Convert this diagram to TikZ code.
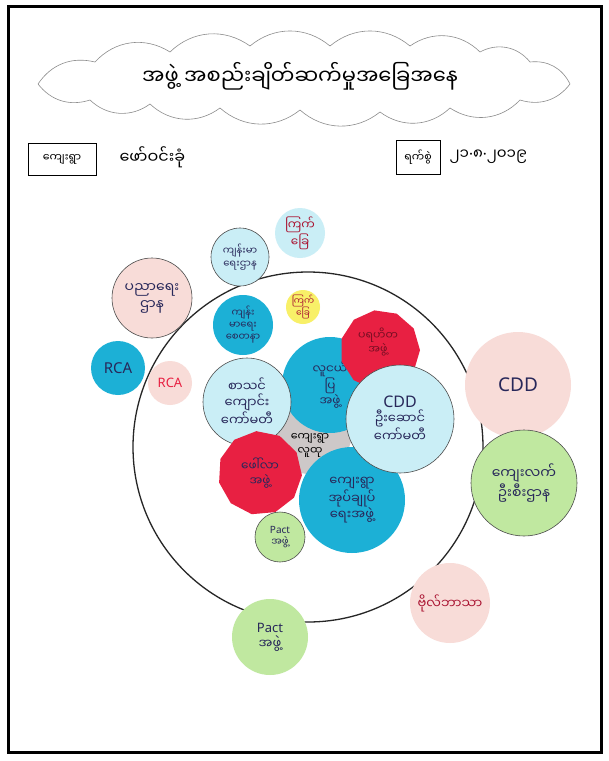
\documentclass[tikz,border=0pt]{standalone}
\usepackage{fontspec}
\setmainfont{Noto Sans}
\newfontfamily\my[Script=Myanmar]{Noto Sans Myanmar UI}
\newfontfamily\latf{Noto Sans}
\usetikzlibrary{shapes.geometric}
\definecolor{lblue}{RGB}{202,238,246}
\definecolor{cyanb}{RGB}{28,176,214}
\definecolor{pinkc}{RGB}{248,220,216}
\definecolor{redc}{RGB}{232,32,66}
\definecolor{yellowc}{RGB}{248,240,104}
\definecolor{greenc}{RGB}{192,232,160}
\definecolor{grayc}{RGB}{205,200,200}
\definecolor{ink}{RGB}{40,40,90}
\definecolor{redink}{RGB}{170,20,50}
\begin{document}
\begin{tikzpicture}[x=1pt,y=-1pt,
  org/.style={circle, inner sep=0pt, align=center, text=ink,
    font=\my\fontsize{12}{15}\selectfont},
  redpoly/.style={regular polygon, regular polygon sides=11, inner sep=0pt, align=center,
    fill=redc, text=ink, font=\my\fontsize{12}{15}\selectfont},
  outl/.style={draw=black!70, line width=0.6pt},
  lbl/.style={draw=black, line width=0.6pt, inner sep=5pt, font=\my\fontsize{11}{13}\selectfont}
]
\useasboundingbox (0,0) rectangle (609,761);
\fill[white] (0,0) rectangle (609,761);
\draw[line width=3pt] (8,6) rectangle (601,752);

% title cloud
\draw[black!45, line width=0.6pt]
  (38,84) to[bend left=35] (95,62) to[bend left=40] (170,52) to[bend left=40] (250,46)
  to[bend left=40] (330,46) to[bend left=40] (410,46) to[bend left=40] (480,52)
  to[bend left=40] (530,62) to[bend left=35] (570,84) to[bend left=35] (520,100)
  to[bend left=40] (450,108) to[bend left=40] (380,112) to[bend left=40] (300,110)
  to[bend left=40] (220,108) to[bend left=40] (150,104) to[bend left=40] (90,100)
  to[bend left=35] (38,84);
\coordinate (cloud) at (305,78);
\node[font=\my\fontsize{21}{24}\selectfont] (title) at (300,76) {အဖွဲ့ အစည်းချိတ်ဆက်မှုအခြေအနေ};

% header boxes
\node[lbl, minimum width=68pt, minimum height=32pt] (vbox) at (62,159) {ကျေးရွာ};
\node[font=\my\fontsize{16}{18}\selectfont, anchor=west] (vname) at (116,157) {ဖော်ဝင်းခုံ};
\node[lbl, minimum width=44pt, minimum height=34pt] (dbox) at (418,157) {ရက်စွဲ};
\node[font=\my\fontsize{15}{18}\selectfont, anchor=west] (date) at (446,157) {၂၁{\latf·}၈{\latf·}၂၀၁၉};

% big circle
\node[circle, draw=black!85, line width=1.3pt, minimum size=350pt, inner sep=0pt] (big) at (308,447) {};

% center
\node[org, fill=grayc, minimum size=84pt, text=black, font=\my\fontsize{11}{14}\selectfont] (center) at (310,432) {\\[20pt]ကျေးရွာ\\လူထု};

% inner circles
\node[org, fill=cyanb, minimum size=96pt] (youth) at (330,385) {လူငယ်\\ပြ\\အဖွဲ့};
\node[redpoly, minimum size=80pt, shape border rotate=8] (charity) at (380,350) {};
\node[align=center, text=redink!70!black, font=\my\fontsize{11}{14}\selectfont] (charitytext) at (378,342) {ပရဟိတ\\အဖွဲ့};
\node[org, fill=lblue, outl, minimum size=88pt, font=\my\fontsize{13}{16}\selectfont] (school) at (247,402) {စာသင်\\ကျောင်း\\ကော်မတီ};
\node[redpoly, minimum size=84pt, shape border rotate=5] (fola) at (260,473) {ဖေါ်လာ\\အဖွဲ့};
\node[org, fill=cyanb, minimum size=106pt, font=\my\fontsize{13}{16}\selectfont] (admin) at (352,500) {ကျေးရွာ\\အုပ်ချုပ်\\ရေးအဖွဲ့};
\node[org, fill=lblue, outl, minimum size=108pt, font=\my\fontsize{13}{16}\selectfont] (cddin) at (400,419) {{\latf\fontsize{16}{17}\selectfont CDD}\\ဦးဆောင်\\ကော်မတီ};
\node[org, fill=greenc, outl, minimum size=50pt, font=\my\fontsize{10}{12}\selectfont] (pact1) at (280,537) {{\latf Pact}\\အဖွဲ့};
\node[org, fill=cyanb, minimum size=60pt, font=\my\fontsize{10}{12}\selectfont] (health2) at (243,325) {ကျန်း\\မာရေး\\စေတနာ};
\node[org, fill=yellowc, minimum size=34pt, text=redink, font=\my\fontsize{9}{10}\selectfont] (yel) at (303,307) {ကြက်\\ခြေ};

% outer circles
\node[org, fill=lblue, minimum size=50pt, text=redink] (topc) at (300,233) {ကြက်\\ခြေ};
\node[org, fill=lblue, outl, minimum size=58pt, font=\my\fontsize{10}{13}\selectfont] (health) at (240,257) {ကျန်းမာ\\ရေးဌာန};
\node[org, fill=pinkc, outl, minimum size=80pt, font=\my\fontsize{14}{17}\selectfont] (edu) at (152,298) {ပညာရေး\\ဌာန};
\node[org, fill=cyanb, minimum size=54pt, font=\latf\fontsize{15}{16}\selectfont] (rca1) at (118,368) {RCA};
\node[org, fill=pinkc, minimum size=44pt, text=redc, font=\latf\fontsize{13}{14}\selectfont] (rca2) at (170,383) {RCA};
\node[org, fill=pinkc, minimum size=106pt, font=\latf\fontsize{19}{20}\selectfont] (cddout) at (518,385) {CDD};
\node[org, fill=greenc, outl, minimum size=106pt, font=\my\fontsize{14}{17}\selectfont] (rural) at (524,483) {ကျေးလက်\\ဦးစီးဌာန};
\node[org, fill=pinkc, minimum size=80pt, text=redink, font=\my\fontsize{13}{14}\selectfont] (relig) at (450,603) {ဗိုလ်ဘာသာ};
\node[org, fill=greenc, minimum size=76pt, font=\my\fontsize{13}{16}\selectfont] (pact2) at (270,637) {{\latf Pact}\\အဖွဲ့};
\end{tikzpicture}
\end{document}
